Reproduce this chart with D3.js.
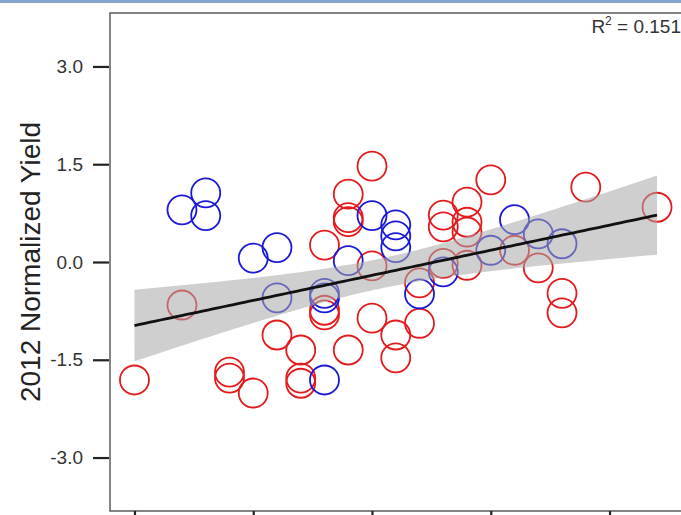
<!DOCTYPE html>
<html>
<head>
<meta charset="utf-8">
<script src="https://cdn.jsdelivr.net/npm/d3@7"></script>
<style>
  html, body { margin: 0; padding: 0; background: #fff; }
  svg { display: block; font-family: "Liberation Sans", Arial, sans-serif; }
</style>
</head>
<body>
<svg id="chart" width="681" height="515"></svg>
<script>
// Red group: x score and 2012 normalized yield
const redX = [-2.0, -1.6, -1.2, -1.2, -1.0, -0.8, -0.6, -0.6, -0.6, -0.4, -0.4, -0.4,
              -0.2, -0.2, -0.2, -0.2, 0.0, 0.0, 0.0, 0.2, 0.2, 0.4, 0.4, 0.6, 0.6, 0.6,
              0.8, 0.8, 0.8, 0.8, 1.0, 1.2, 1.4, 1.6, 1.6, 1.8, 2.4];
const redY = [-1.81, -0.66, -1.69, -1.78, -2.01, -1.12, -1.35, -1.78, -1.86, 0.26, -0.74, -0.81,
              -1.35, 1.04, 0.68, 0.62, 1.47, -0.06, -0.86, -1.12, -1.47, -0.94, -0.32, 0.72, 0.54, -0.02,
              0.92, 0.61, 0.46, -0.05, 1.26, 0.18, -0.09, -0.48, -0.78, 1.15, 0.84];

// Blue group
const blueX = [-1.6, -1.4, -1.4, -1.0, -0.8, -0.8, -0.4, -0.4, -0.4, -0.2, 0.0, 0.2, 0.2, 0.2,
               0.4, 0.6, 1.0, 1.2, 1.4, 1.6];
const blueY = [0.80, 1.06, 0.71, 0.06, 0.22, -0.55, -0.48, -0.55, -1.81, 0.02, 0.71, 0.57, 0.40, 0.22,
               -0.49, -0.15, 0.18, 0.65, 0.43, 0.28];

const yTicks = [-3.0, -1.5, 0.0, 1.5, 3.0];
const xTicks = [-2, -1, 0, 1, 2];
const yLabel = "2012 Normalized Yield";
const r2Label = "0.151";

const svg = d3.select("#chart");
const W = 681, H = 515;
const plot = { left: 110, right: 684, top: 13, bottom: 511 };

const x = d3.scaleLinear().domain([-2.206, 2.627]).range([plot.left, plot.right]);
const y = d3.scaleLinear().domain([-3.82, 3.82]).range([plot.bottom, plot.top]);

// window strip along the top edge
svg.append("rect").attr("x", 0).attr("y", 0).attr("width", W).attr("height", 3)
  .attr("fill", "#86a3cb");

// plot frame
svg.append("rect")
  .attr("x", plot.left).attr("y", plot.top)
  .attr("width", plot.right - plot.left).attr("height", plot.bottom - plot.top)
  .attr("fill", "none").attr("stroke", "#666").attr("stroke-width", 1.6);

// points
const red = redX.map((v, i) => ({ x: v, y: redY[i], c: "#e41a1c" }));
const blue = blueX.map((v, i) => ({ x: v, y: blueY[i], c: "#1a1ad6" }));
const all = red.concat(blue);

const gPts = svg.append("g");
gPts.selectAll("circle.red").data(red).join("circle")
  .attr("class", "red")
  .attr("cx", d => x(d.x)).attr("cy", d => y(d.y)).attr("r", 14.5)
  .attr("fill", "none").attr("stroke", d => d.c).attr("stroke-width", 1.8);
gPts.selectAll("circle.blue").data(blue).join("circle")
  .attr("class", "blue")
  .attr("cx", d => x(d.x)).attr("cy", d => y(d.y)).attr("r", 14.5)
  .attr("fill", "none").attr("stroke", d => d.c).attr("stroke-width", 1.8);

// least-squares fit with 95% confidence band
const n = all.length;
const mx = d3.mean(all, d => d.x), my = d3.mean(all, d => d.y);
const sxx = d3.sum(all, d => (d.x - mx) ** 2);
const sxy = d3.sum(all, d => (d.x - mx) * (d.y - my));
const slope = sxy / sxx, icpt = my - slope * mx;
const sse = d3.sum(all, d => (d.y - (icpt + slope * d.x)) ** 2);
const s = Math.sqrt(sse / (n - 2));
const tcrit = 2.0;
const [x0, x1] = d3.extent(all, d => d.x);
const grid = d3.range(0, 101).map(i => x0 + (x1 - x0) * i / 100);
const band = grid.map(v => {
  const fit = icpt + slope * v;
  const se = s * Math.sqrt(1 / n + (v - mx) ** 2 / sxx);
  return { x: v, lo: fit - tcrit * se, hi: fit + tcrit * se, fit };
});

svg.append("path").datum(band)
  .attr("d", d3.area().x(d => x(d.x)).y0(d => y(d.lo)).y1(d => y(d.hi)))
  .attr("fill", "#a8a8a8").attr("fill-opacity", 0.55);

svg.append("path").datum(band)
  .attr("d", d3.line().x(d => x(d.x)).y(d => y(d.fit)))
  .attr("fill", "none").attr("stroke", "#111").attr("stroke-width", 2.8);

// axes
const yAxis = d3.axisLeft(y).tickValues(yTicks).tickSize(16).tickPadding(10)
  .tickFormat(d => d.toFixed(1));
const gy = svg.append("g").attr("transform", `translate(${plot.left - 1},0)`).call(yAxis);
gy.select(".domain").remove();
gy.selectAll(".tick line").attr("stroke", "#222").attr("stroke-width", 2.2);
gy.selectAll(".tick text").attr("fill", "#333").attr("font-size", 19)
  .attr("font-family", "Liberation Sans, Arial, sans-serif");

const xAxis = d3.axisBottom(x).tickValues(xTicks).tickSize(16).tickFormat(() => "");
const gx = svg.append("g").attr("transform", `translate(0,${plot.bottom})`).call(xAxis);
gx.select(".domain").remove();
gx.selectAll(".tick line").attr("stroke", "#222").attr("stroke-width", 2.2);

// y-axis title
svg.append("text")
  .attr("transform", `translate(30,${(plot.top + plot.bottom) / 2}) rotate(-90)`)
  .attr("text-anchor", "middle").attr("dominant-baseline", "central")
  .attr("font-size", 28).attr("fill", "#222")
  .text(yLabel);

// R² annotation
const r2 = svg.append("text")
  .attr("x", 681).attr("y", 33).attr("text-anchor", "end")
  .attr("font-size", 19).attr("fill", "#333");
r2.append("tspan").text("R");
r2.append("tspan").attr("dy", -8).attr("font-size", 12).text("2");
r2.append("tspan").attr("dy", 8).text(" = " + r2Label);
</script>
</body>
</html>
